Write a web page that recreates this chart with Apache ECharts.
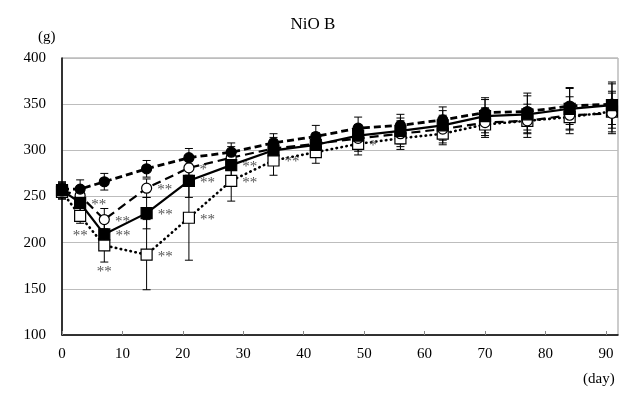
<!DOCTYPE html>
<html><head><meta charset="utf-8">
<script src="https://cdn.jsdelivr.net/npm/echarts@6/dist/echarts.min.js"></script>
<style>html,body{margin:0;padding:0;background:#fff}#c{width:626px;height:396px}</style>
</head><body><div id="c"></div>
<script>
var days = [0,3,7,14,21,28,35,42,49,56,63,70,77,84,91];
var filledCircle = [258,258,266,280,292,298,308,315,324,327,333,341,342,348,350];
var filledCircleSD = [8,10,9,9,10,10,10,12,12,12,14,16,20,20,22];
var openCircle = [256,251,225,259,281,292,302,307,313,318,323,330,332,338,340];
var openCircleSD = [8,10,12,10,12,12,12,12,14,14,15,16,18,20,22];
var filledSquare = [257,243,209,232,267,284,300,306,316,321,327,337,339,345,349];
var filledSquareSD = [8,12,15,17,18,14,12,12,12,14,16,18,20,22,25];
var openSquare = [255,229,197,187,227,267,289,298,307,313,318,328,332,336,342];
var openSquareSD = [8,8,18,38,46,22,16,12,12,12,12,12,14,14,22];
var sigOpenCircle = ['','','**','**','*','','','','','','','','','',''];
var sigFilledSquare = ['','**','**','**','**','**','','','','','','','','',''];
var sigOpenSquare = ['','**','**','**','**','**','**','','*','','','','','',''];
var yTicks = [100,150,200,250,300,350,400];
var xTicks = [0,10,20,30,40,50,60,70,80,90];

var serif = 'Liberation Serif';
function errData(vals, sd){ return days.map(function(d,i){ return [d, vals[i]-sd[i], vals[i]+sd[i]]; }); }
function errSeries(vals, sd){
  return {type:'custom', z:1, silent:true, data: errData(vals, sd),
    renderItem: function(params, api){
      var x = api.value(0), lo = api.coord([x, api.value(1)]), hi = api.coord([x, api.value(2)]);
      var w = 4;
      var st = {stroke:'#000', lineWidth:1};
      return {type:'group', children:[
        {type:'line', shape:{x1:lo[0],y1:lo[1],x2:hi[0],y2:hi[1]}, style:st},
        {type:'line', shape:{x1:lo[0]-w,y1:lo[1],x2:lo[0]+w,y2:lo[1]}, style:st},
        {type:'line', shape:{x1:hi[0]-w,y1:hi[1],x2:hi[0]+w,y2:hi[1]}, style:st}
      ]};
    }};
}
function pts(vals, sig, belowIdx){
  return days.map(function(d,i){
    var item = {value:[d, vals[i]]};
    if (sig && sig[i]) {
      var below = belowIdx && belowIdx.indexOf(i) >= 0;
      item.label = {show:true, formatter: sig[i], position: below ? 'bottom' : 'right',
        distance: below ? 7 : 5, offset: below ? [0, (i===2?6:0)] : [0, 2],
        color:'#555', fontFamily: serif, fontSize:15};
    }
    return item;
  });
}
function lineSeries(vals, sig, symbol, fill, dash, width, size, below, cap){
  return {type:'line', z:3, data: pts(vals, sig, below), symbol: symbol, symbolSize: size,
    itemStyle:{color: fill, borderColor:'#000', borderWidth:1.2},
    lineStyle:{color:'#000', width: width, type: dash, cap: cap || 'butt'},
    label:{show:false}, emphasis:{disabled:true}, animation:false};
}
var chart = echarts.init(document.getElementById('c'), null, {renderer:'canvas'});
chart.setOption({
  animation:false,
  backgroundColor:'#fff',
  title:{text:'NiO B', left:'center', top:11, textStyle:{fontFamily:serif, fontSize:17, fontWeight:'normal', color:'#000'}},
  graphic:[
    {type:'text', left:38, top:30, style:{text:'(g)', font:'15px "Liberation Serif"', fill:'#000'}},
    {type:'text', left:583, top:372, style:{text:'(day)', font:'15px "Liberation Serif"', fill:'#000'}}
  ],
  grid:{left:62, right:8, top:58, bottom:61, show:true, borderColor:'#999', borderWidth:1},
  xAxis:{type:'value', min:0, max:92, interval:10,
    axisLine:{lineStyle:{color:'#000', width:1.5}},
    axisTick:{inside:true, length:4, lineStyle:{color:'#888'}},
    axisLabel:{showMaxLabel:false, color:'#000', fontFamily:serif, fontSize:15, margin:12,
      formatter:function(v){ return xTicks.indexOf(v)>=0 ? String(v) : ''; }},
    splitLine:{show:false}},
  yAxis:{type:'value', min:100, max:400, interval:50,
    axisLine:{show:true, lineStyle:{color:'#000', width:1.5}},
    axisTick:{show:false},
    axisLabel:{color:'#000', fontFamily:serif, fontSize:15, margin:16,
      formatter:function(v){ return yTicks.indexOf(v)>=0 ? String(v) : ''; }},
    splitLine:{show:true, lineStyle:{color:'#bdbdbd', width:1}}},
  series:[
    errSeries(filledCircle, filledCircleSD),
    errSeries(openCircle, openCircleSD),
    errSeries(filledSquare, filledSquareSD),
    errSeries(openSquare, openSquareSD),
    lineSeries(openSquare, sigOpenSquare, 'rect', '#fff', [0.5,4.5], 2.6, 11, [1,2], 'round'),
    lineSeries(openCircle, sigOpenCircle, 'circle', '#fff', [9,5], 2.2, 10, null),
    lineSeries(filledSquare, sigFilledSquare, 'rect', '#000', 'solid', 2.2, 11, null),
    lineSeries(filledCircle, null, 'circle', '#000', [7,4], 2.8, 10, null)
  ]
});
</script></body></html>
